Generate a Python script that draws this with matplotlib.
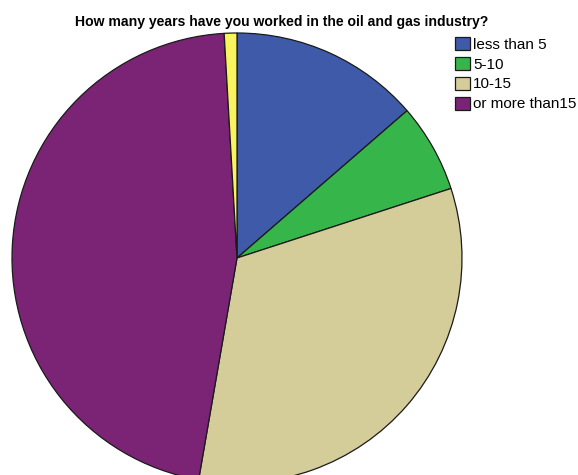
import matplotlib.pyplot as plt

plt.rcParams['font.family'] = ['Liberation Sans', 'DejaVu Sans']

# response counts per category (last slice is the unlabeled missing answer)
labels = ["less than 5", "5-10", "10-15", "or more than15", "missing"]
counts = [15, 7, 36, 51, 1]
colors = ["#3f5aa9", "#36b64a", "#d4cd9a", "#7b2476", "#f9f45e"]

W, H = 578, 475
fig = plt.figure(figsize=(W / 100, H / 100), dpi=100)
ax = fig.add_axes([0, 0, 1, 1])

wedges, _ = ax.pie(
    counts,
    colors=colors,
    startangle=90,
    counterclock=False,
    center=(237, H - 258),
    radius=225,
    wedgeprops=dict(edgecolor="#1a1a1a", linewidth=0.9),
    frame=True,
)
ax.set_xlim(0, W)
ax.set_ylim(0, H)
ax.set_aspect("equal")
ax.axis("off")

ax.text(282, H - 22, "How many years have you worked in the oil and gas industry?",
        ha="center", va="center", fontsize=10.1, fontweight="bold")

leg = ax.legend(
    wedges[:4], labels[:4],
    loc="upper left",
    bbox_to_anchor=(455 / W, 1 - 37 / H),
    frameon=False,
    fontsize=11,
    handlelength=1.0,
    handleheight=0.92,
    handletextpad=0.2,
    labelspacing=0.34,
    borderaxespad=0,
    borderpad=0,
)

fig.savefig("out.png", dpi=100)
